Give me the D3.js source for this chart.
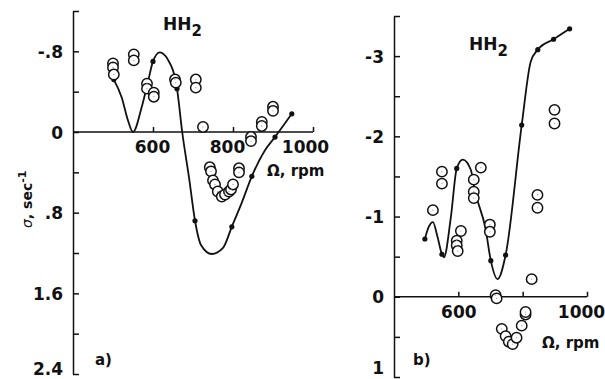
<!DOCTYPE html>
<html>
<head>
<meta charset="utf-8">
<script src="https://cdn.jsdelivr.net/npm/d3@7"></script>
<style>
  body { margin: 0; background: #fff; }
  svg { display: block; }
  text { font-family: "DejaVu Sans", sans-serif; font-weight: bold; fill: #111; }
  .domain, .tick line { stroke: #111; stroke-width: 1.5; }
</style>
</head>
<body>
<svg id="chart" width="605" height="379"></svg>
<script>
// panel a) - smooth curve through filled points
const curveA = [[502,-0.52],[522,-0.34],[537,-0.12],[550,0.0],[572,-0.25],[587,-0.49],[600,-0.70],[617,-0.79],[637,-0.72],[660,-0.43],[673,0.0],[690,0.45],[705,0.88],[720,1.12],[747,1.21],[775,1.15],[797,0.94],[822,0.70],[847,0.44],[880,0.18],[905,0.05],[947,-0.18]];
const dotsA = [[502,-0.52],[600,-0.70],[660,-0.43],[705,0.88],[797,0.94],[847,0.44],[905,0.05],[947,-0.18]];
const openA = [[500,-0.68],[500,-0.64],[502,-0.57],[552,-0.77],[552,-0.71],[585,-0.48],[585,-0.43],[602,-0.39],[602,-0.35],
  [655,-0.52],[657,-0.49],[707,-0.52],[707,-0.44],[725,-0.05],[845,0.05],[845,0.09],[872,-0.10],[872,-0.06],[900,-0.25],[900,-0.21],
  [742,0.35],[745,0.39],[750,0.48],[755,0.52],[762,0.59],[772,0.64],[780,0.62],[790,0.59],[795,0.57],[800,0.52],[815,0.36],[815,0.40]];

// panel b)
const curveB = [[496,-0.72],[508,-0.87],[521,-0.93],[535,-0.75],[549,-0.53],[555,-0.49],[577,-1.00],[595,-1.60],[614,-1.71],[639,-1.58],[651,-1.33],[685,-0.84],[701,-0.45],[722,-0.22],[747,-0.52],[797,-2.14],[825,-2.93],[847,-3.08],[896,-3.21],[946,-3.34]];
const dotsB = [[496,-0.72],[549,-0.53],[595,-1.60],[651,-1.33],[701,-0.45],[747,-0.52],[797,-2.14],[847,-3.08],[896,-3.21],[946,-3.34]];
const openB = [[521,-1.08],[549,-1.56],[549,-1.41],[608,-0.82],[595,-0.70],[595,-0.64],[598,-0.57],[670,-1.61],[648,-1.46],[648,-1.31],[648,-1.23],
  [698,-0.90],[698,-0.81],[716,-0.02],[719,0.02],[828,-0.22],[846,-1.27],[846,-1.11],[899,-2.33],[899,-2.16],
  [735,0.40],[747,0.49],[757,0.56],[769,0.59],[781,0.51],[797,0.36],[809,0.22],[809,0.19]];

const xTicks = [600, 800, 1000];
const xLabelsA = {600:"600", 800:"800", 1000:"1000"};
const xLabelsB = {600:"600", 1000:"1000"};
const yTicksA = [-1.2,-0.8,-0.4,0,0.4,0.8,1.2,1.6,2.0,2.4];
const yLabelsA = {"-0.8":"-.8","0":"0","0.8":".8","1.6":"1.6","2.4":"2.4"};
const yTicksB = [-3.5,-3,-2.5,-2,-1.5,-1,-0.5,0,0.5,1];
const yLabelsB = {"-3":"-3","-2":"-2","-1":"-1","0":"0","1":"1"};

const svg = d3.select("#chart");

function panel(cfg) {
  const x = d3.scaleLinear().domain([400, 1000]).range(cfg.xr);
  const y = d3.scaleLinear().domain(cfg.yd).range(cfg.yr);
  const g = svg.append("g");

  // y axis, ticks pointing inward
  const ya = g.append("g")
    .attr("transform", `translate(${cfg.xr[0]},0)`)
    .call(d3.axisLeft(y).tickValues(cfg.yTicks).tickSize(-6).tickSizeOuter(0).tickPadding(10)
      .tickFormat(d => cfg.yLabels[String(+d.toFixed(2))] || ""));
  ya.selectAll("text").attr("font-size", 17)
    .attr("dy", d => d === cfg.yd[1] ? cfg.lastDy : "0.36em");

  // x axis along sigma = 0
  const xa = g.append("g")
    .attr("transform", `translate(0,${y(0)})`)
    .call(d3.axisBottom(x).tickValues(xTicks).tickSize(-5).tickSizeOuter(0).tickPadding(9)
      .tickFormat(d => cfg.xLabels[d] || ""));
  xa.selectAll("path.domain").attr("d", `M${cfg.xr[0]},0H${cfg.xr[1]}`);
  xa.selectAll("text").attr("font-size", 17).attr("dx", (d, i) => cfg.xdx[i]);

  const line = d3.line().x(d => x(d[0])).y(d => y(d[1])).curve(d3.curveMonotoneX);
  g.append("path").datum(cfg.curve).attr("d", line)
    .attr("fill", "none").attr("stroke", "#111").attr("stroke-width", 1.8);
  g.selectAll(".dot").data(cfg.dots).join("circle")
    .attr("cx", d => x(d[0])).attr("cy", d => y(d[1])).attr("r", 2.6).attr("fill", "#111");
  g.selectAll(".open").data(cfg.open).join("circle")
    .attr("cx", d => x(d[0])).attr("cy", d => y(d[1])).attr("r", 5.2)
    .attr("fill", "#fff").attr("stroke", "#111").attr("stroke-width", 1.5);
  g.selectAll(".cen").data(cfg.open).join("circle")
    .attr("cx", d => x(d[0])).attr("cy", d => y(d[1])).attr("r", 0.6).attr("fill", "#999");

  const t = g.append("text").attr("x", cfg.title[0]).attr("y", cfg.title[1]).attr("font-size", 17);
  t.append("tspan").text("HH");
  t.append("tspan").attr("dy", 6).attr("font-size", 15).text("2");
  g.append("text").attr("x", cfg.omega[0]).attr("y", cfg.omega[1]).attr("font-size", 15).text("Ω, rpm");
  g.append("text").attr("x", cfg.tag[0]).attr("y", cfg.tag[1]).attr("font-size", 15).text(cfg.tagText);
}

panel({
  xr: [73, 313], yd: [-1.2, 2.4], yr: [11, 374], lastDy: "0.05em",
  yTicks: yTicksA, yLabels: yLabelsA, xLabels: xLabelsA, xdx: [-1, -6, -8],
  curve: curveA, dots: dotsA, open: openA,
  title: [163, 30], omega: [267, 176], tag: [95, 365], tagText: "a)"
});
panel({
  xr: [394, 587], yd: [-3.5, 1], yr: [16, 377], lastDy: "-0.2em",
  yTicks: yTicksB, yLabels: yLabelsB, xLabels: xLabelsB, xdx: [0, 0, -6],
  curve: curveB, dots: dotsB, open: openB,
  title: [469, 50], omega: [542, 348], tag: [413, 365], tagText: "b)"
});

// y axis title for panel a)
const yt = svg.append("text").attr("transform", "translate(32,228) rotate(-90)").attr("font-size", 14);
yt.append("tspan").attr("font-style", "italic").attr("font-weight", "normal").text("σ");
yt.append("tspan").text(", sec");
yt.append("tspan").attr("dy", -6).attr("font-size", 11).text("-1");
</script>
</body>
</html>
